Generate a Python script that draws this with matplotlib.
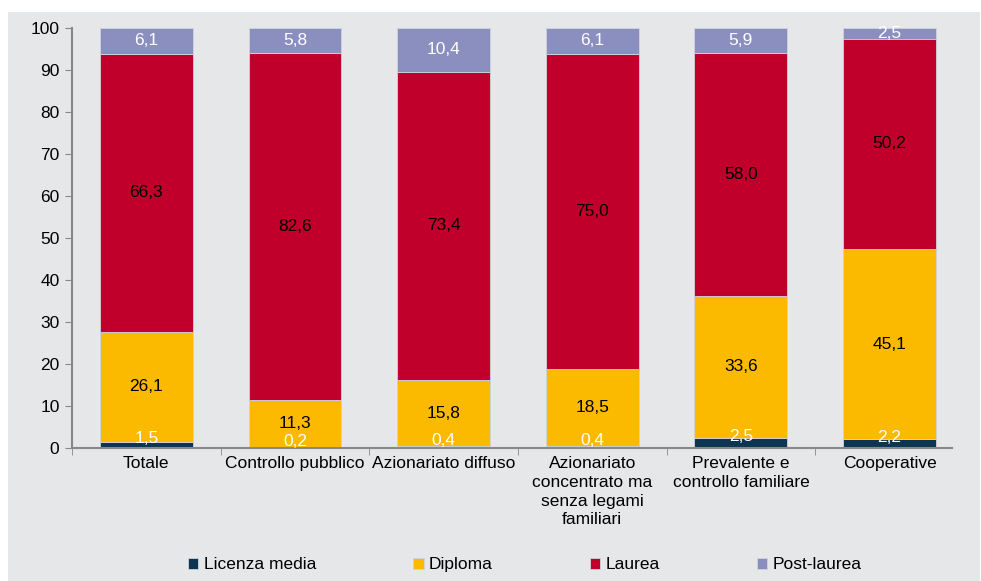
import matplotlib
matplotlib.use("Agg")
import matplotlib.pyplot as plt
import numpy as np

plt.rcParams['font.family'] = ['Liberation Sans', 'DejaVu Sans']

categorie = ['Totale', 'Controllo pubblico', 'Azionariato diffuso',
             'Azionariato\nconcentrato ma\nsenza legami\nfamiliari',
             'Prevalente e\ncontrollo familiare', 'Cooperative']
licenza_media = [1.5, 0.2, 0.4, 0.4, 2.5, 2.2]
diploma = [26.1, 11.3, 15.8, 18.5, 33.6, 45.1]
laurea = [66.3, 82.6, 73.4, 75.0, 58.0, 50.2]
post_laurea = [6.1, 5.8, 10.4, 6.1, 5.9, 2.5]

serie = [('Licenza media', licenza_media, '#0b3550', 'white'),
         ('Diploma', diploma, '#fbba00', 'black'),
         ('Laurea', laurea, '#c0002a', 'black'),
         ('Post-laurea', post_laurea, '#8a8fc0', 'white')]

sfondo = '#e6e7e9'
fs = 12.5
fig = plt.figure(figsize=(9.81, 5.81), dpi=100)

# riquadro grigio dietro al grafico
bg = fig.add_axes([8 / 981, 0, 972 / 981, 569 / 581], zorder=-1)
bg.set_facecolor(sfondo)
bg.set_xticks([])
bg.set_yticks([])
for s in bg.spines.values():
    s.set_visible(False)

ax = fig.add_axes([72 / 981, 1 - 448 / 581, 880 / 981, 420 / 581])
ax.patch.set_alpha(0)

x = np.arange(len(categorie))
base = np.zeros(len(categorie))
handles = []
for nome, valori, colore, col_testo in serie:
    valori = np.array(valori)
    b = ax.bar(x, valori, 0.625, bottom=base, color=colore, edgecolor='#d0d3dd',
               linewidth=0.6, label=nome, zorder=2)
    handles.append(b)
    for xi, v, b0 in zip(x, valori, base):
        yc = b0 + v / 2
        if v < 3 and b0 < 1:
            yc = b0 + v / 2 + 1.5
        ax.text(xi, yc, f'{v:.1f}'.replace('.', ','), ha='center', va='center',
                color=col_testo, fontsize=fs, zorder=3)
    base = base + valori

ax.set_ylim(0, 100)
ax.set_xlim(-0.5, 5.42)
ax.set_yticks(range(0, 101, 10))
ax.set_xticks(x)
ax.set_xticklabels(categorie, fontsize=fs, va='top', linespacing=1.3)
ax.set_xticks(np.arange(-0.5, 5.5, 1), minor=True)
ax.tick_params(axis='x', which='major', length=0, pad=6)
ax.tick_params(axis='x', which='minor', length=5, color='#888888', direction='out')
ax.tick_params(axis='y', labelsize=fs, length=5, color='#888888', pad=4)
for s in ['top', 'right']:
    ax.spines[s].set_visible(False)
for s in ['left', 'bottom']:
    ax.spines[s].set_color('#888888')
    ax.spines[s].set_linewidth(1.5)

fig.legend(handles=handles, labels=[s[0] for s in serie], loc='center',
           bbox_to_anchor=(0.535, 0.028), ncol=4, frameon=False, fontsize=fs,
           handlelength=0.6, handleheight=0.6, handletextpad=0.3,
           columnspacing=5.6)

fig.savefig('out.png', dpi=100)
